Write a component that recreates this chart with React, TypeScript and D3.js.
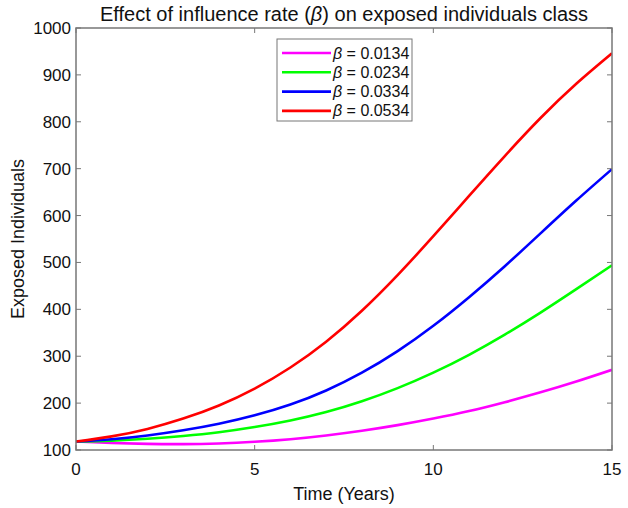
import React from "react";
import * as d3 from "d3";

const times = [0, 1, 2, 3, 4, 5, 6, 7, 8, 9, 10, 11, 12, 13, 14, 15];
const magenta = [118, 115, 113, 112.5, 114, 117.5, 123, 131, 141, 153, 167, 183, 202, 223, 246, 271];
const green = [118, 120, 124, 130, 138, 149, 163, 181, 204, 232, 265, 303, 346, 393, 443, 494];
const blue = [118, 123, 131, 142, 156, 174, 197, 227, 265, 311, 365, 426, 492, 562, 632, 699];
const red = [118, 129, 145, 167, 195, 231, 276, 331, 397, 473, 556, 642, 727, 808, 881, 946];
const seriesLabels = ["0.0134", "0.0234", "0.0334", "0.0534"];
const seriesColors = ["#ff00ff", "#00ff00", "#0000ff", "#ff0000"];
const xTicks = [0, 5, 10, 15];
const yTicks = [100, 200, 300, 400, 500, 600, 700, 800, 900, 1000];

export default function App() {
  const W = 628, H = 508;
  const left = 76, right = 612, top = 28, bottom = 450;
  const x = d3.scaleLinear().domain([0, 15]).range([left, right]);
  const y = d3.scaleLinear().domain([100, 1000]).range([bottom, top]);
  const line = d3
    .line<number>()
    .x((_, i) => x(times[i]))
    .y((d) => y(d))
    .curve(d3.curveNatural);
  const series = [magenta, green, blue, red];
  const axisColor = "#777";
  const font = "Liberation Sans, Arial, sans-serif";
  return (
    <svg width={W} height={H} style={{ position: "absolute", left: 0, top: 0, background: "#fff" }} fontFamily={font}>
      <rect x={0} y={0} width={W} height={H} fill="#fff" />
      <defs>
        <clipPath id="plot">
          <rect x={left} y={top} width={right - left} height={bottom - top} />
        </clipPath>
      </defs>
      <g clipPath="url(#plot)">
        {series.map((s, i) => (
          <path key={i} d={line(s) || ""} fill="none" stroke={seriesColors[i]} strokeWidth={2.6} />
        ))}
      </g>
      <rect x={left} y={top} width={right - left} height={bottom - top} fill="none" stroke={axisColor} strokeWidth={1.5} />
      {xTicks.map((t) => (
        <g key={"x" + t}>
          <line x1={x(t)} x2={x(t)} y1={bottom} y2={bottom - 5} stroke={axisColor} strokeWidth={1} />
          <line x1={x(t)} x2={x(t)} y1={top} y2={top + 5} stroke={axisColor} strokeWidth={1} />
          <text x={x(t)} y={bottom + 25} textAnchor="middle" fontSize={17} fill="#111">{t}</text>
        </g>
      ))}
      {yTicks.map((v) => (
        <g key={"y" + v}>
          <line x1={left} x2={left + 5} y1={y(v)} y2={y(v)} stroke={axisColor} strokeWidth={1} />
          <line x1={right} x2={right - 5} y1={y(v)} y2={y(v)} stroke={axisColor} strokeWidth={1} />
          <text x={left - 5} y={y(v) + 6} textAnchor="end" fontSize={17} fill="#111">{v}</text>
        </g>
      ))}
      <text x={(left + right) / 2} y={21} textAnchor="middle" fontSize={20} fill="#111">
        Effect of influence rate (<tspan fontStyle="italic">β</tspan>) on exposed individuals class
      </text>
      <text x={(left + right) / 2} y={500} textAnchor="middle" fontSize={18} fill="#111">Time (Years)</text>
      <text transform={`translate(24, ${(top + bottom) / 2}) rotate(-90)`} textAnchor="middle" fontSize={18} fill="#111">
        Exposed Individuals
      </text>
      <rect x={277} y={39} width={135} height={82} fill="#fff" stroke={axisColor} strokeWidth={1} />
      {seriesLabels.map((lab, i) => {
        const ly = 53 + i * 19.3;
        return (
          <g key={lab}>
            <line x1={282} x2={331} y1={ly} y2={ly} stroke={seriesColors[i]} strokeWidth={2.6} />
            <text x={333} y={ly + 5.5} fontSize={16} fill="#111">
              <tspan fontStyle="italic">β</tspan> = {lab}
            </text>
          </g>
        );
      })}
    </svg>
  );
}
